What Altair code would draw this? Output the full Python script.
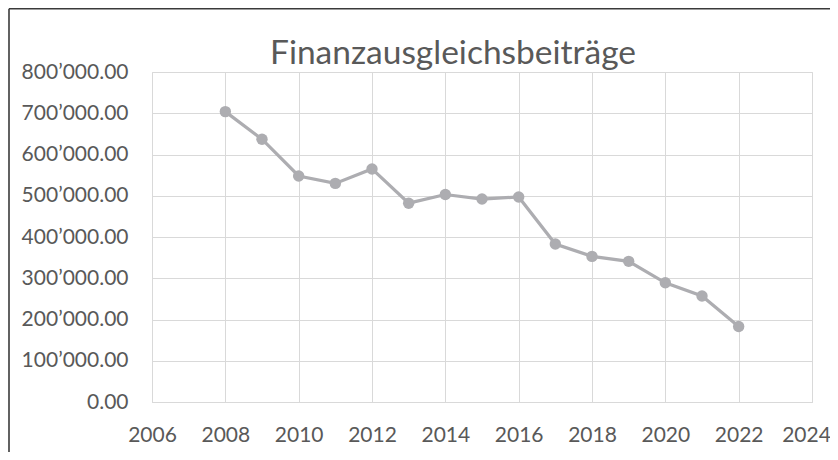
import altair as alt
import pandas as pd

years = [2008, 2009, 2010, 2011, 2012, 2013, 2014, 2015, 2016, 2017, 2018, 2019, 2020, 2021, 2022]
values = [704000, 637000, 548000, 530000, 565000, 482000, 503000, 492000, 497000, 383000, 353000, 341000, 289000, 257000, 183000]
x_ticks = [2006, 2008, 2010, 2012, 2014, 2016, 2018, 2020, 2022, 2024]
y_ticks = [0, 100000, 200000, 300000, 400000, 500000, 600000, 700000, 800000]
title_text = "Finanzausgleichsbeiträge"

df = pd.DataFrame({"year": years, "value": values})

LINE = "#ADADB1"
TXT = "#595959"
GRID = "#D9D9D9"
FONT = "Lato"

base = alt.Chart(df).encode(
    x=alt.X("year:Q", scale=alt.Scale(domain=[2006, 2024], nice=False, zero=False),
            axis=alt.Axis(values=x_ticks, format="d", title=None, labelFontSize=21,
                          labelFont=FONT, labelColor=TXT, labelPadding=22, ticks=False, tickSize=0,
                          domainColor=GRID, gridColor=GRID, gridWidth=1, labelFlush=False,
                          labelOffset=alt.condition("datum.value == 2024", alt.value(-6), alt.value(0)))),
    y=alt.Y("value:Q", scale=alt.Scale(domain=[0, 800000], nice=False),
            axis=alt.Axis(values=y_ticks, title=None, labelFontSize=21, labelFont=FONT,
                          labelColor=TXT, labelPadding=24, ticks=False, tickSize=0,
                          domain=False, gridColor=GRID, gridWidth=1,
                          labelExpr="replace(format(datum.value, ',.2f'), ',', '’')")),
)

line = base.mark_line(color=LINE, strokeWidth=3.2)
pts = base.mark_circle(color=LINE, opacity=1, size=130)

one = alt.Chart(pd.DataFrame({"t": [title_text]}))
border = one.mark_rule(color="#3A3A3A", strokeWidth=1.6)
left_b = border.encode(x=alt.value(-143), y=alt.value(-63.2), y2=alt.value(400))
top_b = border.encode(x=alt.value(-143), x2=alt.value(690), y=alt.value(-63.2))
title = one.mark_text(fontSize=33.5, font=FONT, color=TXT, align="center", baseline="alphabetic").encode(
    text="t:N", x=alt.value(301), y=alt.value(-8))

chart = alt.layer(left_b, top_b, title, line, pts).properties(
    width=660, height=330,
    autosize=alt.AutoSizeParams(type="none"),
    padding={"left": 144, "top": 64, "right": 18, "bottom": 50},
).configure_view(stroke=None).configure(background="white")

chart.save("out.html", embed_options={"renderer": "svg", "actions": False})
